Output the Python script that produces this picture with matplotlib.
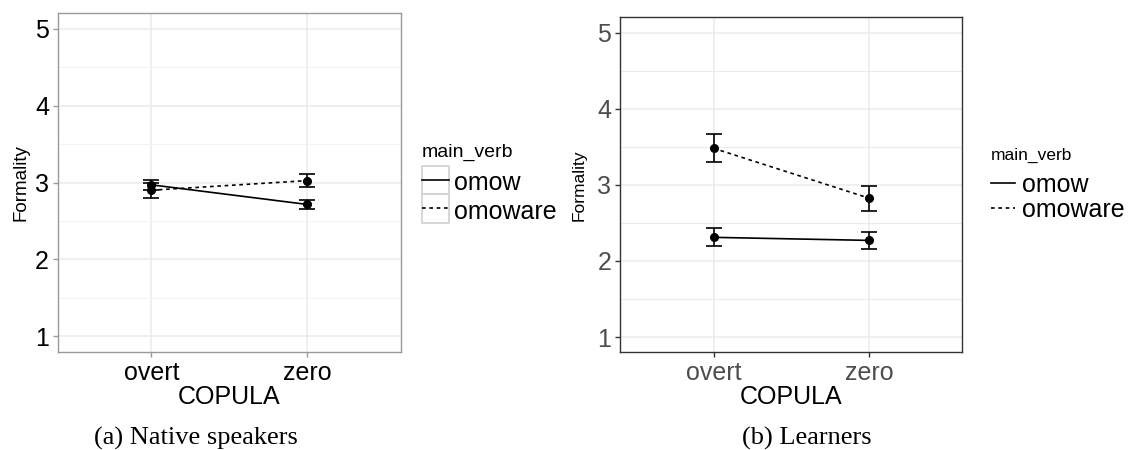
import matplotlib
matplotlib.use("Agg")
import matplotlib.pyplot as plt
from matplotlib.legend_handler import HandlerLine2D
from matplotlib.patches import Rectangle

plt.rcParams['font.family'] = ['Liberation Sans', 'DejaVu Sans']

# ---------------- data ----------------
copula = ["overt", "zero"]
verbs = ["omow", "omoware"]

native_omow = [2.97, 2.715]
native_omow_se = [0.065, 0.062]
native_omoware = [2.90, 3.025]
native_omoware_se = [0.10, 0.085]

learner_omow = [2.31, 2.27]
learner_omow_se = [0.12, 0.11]
learner_omoware = [3.48, 2.825]
learner_omoware_se = [0.185, 0.165]

yticks = [1, 2, 3, 4, 5]
minor_yticks = [1.5, 2.5, 3.5, 4.5]


class BoxedLine(HandlerLine2D):
    # ggplot-like legend key: light grey box behind the line, centred on it
    def create_artists(self, legend, orig_handle, xdescent, ydescent,
                       width, height, fontsize, trans):
        arts = super().create_artists(legend, orig_handle, xdescent, ydescent,
                                      width, height, fontsize, trans)
        yc = (height - ydescent) / 2
        box_h = 20.5
        rect = Rectangle((-xdescent, yc - box_h / 2), width, box_h,
                         facecolor="white", edgecolor="#D0D0D0", lw=1.2,
                         transform=trans)
        return [rect] + arts


def draw_panel(ax, omow, omow_se, omoware, omoware_se, tick_col, frame_col,
               minor_col):
    x = list(range(1, len(copula) + 1))
    ax.set_xlim(0.4, 2.6)
    ax.set_ylim(0.8, 5.2)
    ax.set_yticks(yticks)
    ax.set_yticks(minor_yticks, minor=True)
    ax.set_xticks(x)
    ax.set_xticklabels(copula)
    ax.grid(True, which="major", color="#EBEBEB", lw=1.1, zorder=0)
    ax.grid(True, which="minor", axis="y", color=minor_col, lw=0.8, zorder=0)
    ax.tick_params(axis="both", which="major", labelsize=18, length=3.5,
                   pad=3, colors=frame_col, labelcolor=tick_col, width=1)
    ax.tick_params(which="minor", length=0)
    for sp in ax.spines.values():
        sp.set_color(frame_col)
        sp.set_linewidth(1.0)
    ax.set_axisbelow(True)

    l1, = ax.plot(x, omow, color="black", lw=1.2, ls="-", label=verbs[0], zorder=3)
    l2, = ax.plot(x, omoware, color="black", lw=1.2, dashes=(2.2, 2.2),
                  label=verbs[1], zorder=3)
    ax.errorbar(x, omow, yerr=omow_se, fmt="none", ecolor="black",
                elinewidth=1.2, capsize=5.7, capthick=1.2, zorder=4)
    ax.errorbar(x, omoware, yerr=omoware_se, fmt="none", ecolor="black",
                elinewidth=1.2, capsize=5.7, capthick=1.2, zorder=4)
    ax.plot(x, omow, "o", color="black", ms=5.5, zorder=5)
    ax.plot(x, omoware, "o", color="black", ms=5.5, zorder=5)
    ax.set_xlabel("COPULA", fontsize=18, color="black", labelpad=0)
    return l1, l2


fig = plt.figure(figsize=(11.3, 4.5), dpi=100)
ax1 = fig.add_axes([0.0513, 0.2184, 0.3033, 0.752])
ax2 = fig.add_axes([0.5489, 0.2171, 0.3027, 0.7444])

h1 = draw_panel(ax1, native_omow, native_omow_se, native_omoware,
                native_omoware_se, "black", "#9A9A9A", "#F3F3F3")
h2 = draw_panel(ax2, learner_omow, learner_omow_se, learner_omoware,
                learner_omoware_se, "#4D4D4D", "#333333", "#EBEBEB")

ax1.text(-0.108, 0.5, "Formality", transform=ax1.transAxes, rotation=90,
         ha="center", va="center", fontsize=13.5)
ax2.text(-0.12, 0.5, "Formality", transform=ax2.transAxes, rotation=90,
         ha="center", va="center", fontsize=12.5)

leg1 = fig.legend(handles=list(h1), title="main_verb", loc="upper left",
                  bbox_to_anchor=(421.7 / 1130, 1 - 144 / 450), frameon=False,
                  fontsize=18, title_fontsize=14, handlelength=1.1,
                  handleheight=1.1, handletextpad=0.2, labelspacing=0.12,
                  borderpad=0, borderaxespad=0, alignment="left",
                  handler_map={h: BoxedLine() for h in h1})
leg1._legend_box.sep = 6
leg2 = fig.legend(handles=list(h2), title="main_verb", loc="upper left",
                  bbox_to_anchor=(991 / 1130, 1 - 148 / 450), frameon=False,
                  fontsize=18, title_fontsize=12.5, handlelength=0.95,
                  handleheight=0.8, handletextpad=0.3, labelspacing=0.05,
                  borderpad=0, borderaxespad=0, alignment="left")
leg2._legend_box.sep = 7

fig.text(196 / 1130, 1 - 438 / 450, "(a) Native speakers", ha="center",
         va="center", fontsize=19, family="Liberation Serif")
fig.text(806.7 / 1130, 1 - 438 / 450, "(b) Learners", ha="center",
         va="center", fontsize=19, family="Liberation Serif")

fig.savefig("out.png", dpi=100)
